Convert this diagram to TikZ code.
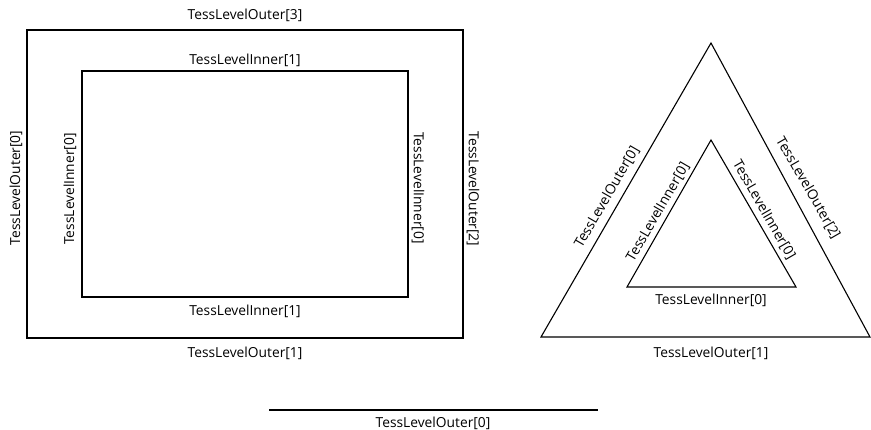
\documentclass[tikz,border=0pt]{standalone}
\usepackage{fontspec}
\setmainfont{Open Sans}
\begin{document}
\begin{tikzpicture}[x=1pt,y=-1pt,
  lbl/.style={inner sep=0pt,font=\fontsize{13.8}{15}\selectfont},
  edge/.style={draw=black,line width=1.1pt}]
\useasboundingbox (0,0) rectangle (871,430);
% rectangles
\coordinate (o1) at (27,30); \coordinate (o2) at (463,338);
\coordinate (i1) at (82,71); \coordinate (i2) at (408,297);
\draw[edge] (o1) rectangle (o2);
\draw[edge] (i1) rectangle (i2);
\node[lbl] (ot3) at (245,15) {TessLevelOuter[3]};
\node[lbl] (it1a) at (245,60) {TessLevelInner[1]};
\node[lbl] (it1b) at (245,311) {TessLevelInner[1]};
\node[lbl] (ot1) at (245,353) {TessLevelOuter[1]};
\node[lbl,rotate=90] (ot0) at (16,188) {TessLevelOuter[0]};
\node[lbl,rotate=90] (it0a) at (70,189) {TessLevelInner[0]};
\node[lbl,rotate=-90] (it0b) at (418,188) {TessLevelInner[0]};
\node[lbl,rotate=-90] (ot2) at (473,189) {TessLevelOuter[2]};
% triangles
\coordinate (ta) at (711,43); \coordinate (tl) at (541,337); \coordinate (tr) at (870,337);
\coordinate (sa) at (711,140); \coordinate (sl) at (627,287); \coordinate (sr) at (796,287);
\draw[edge,line join=miter] (ta) -- (tl) -- (tr) -- cycle;
\draw[edge,line join=miter] (sa) -- (sl) -- (sr) -- cycle;
\node[lbl,rotate=60] (tot0) at (607,197) {TessLevelOuter[0]};
\node[lbl,rotate=60] (tit0a) at (658,212) {TessLevelInner[0]};
\node[lbl,rotate=-60] (tit0b) at (764,210) {TessLevelInner[0]};
\node[lbl,rotate=-60] (tot2) at (808,188) {TessLevelOuter[2]};
\node[lbl] (tit0c) at (711,300) {TessLevelInner[0]};
\node[lbl] (tot1) at (711,353) {TessLevelOuter[1]};
% line
\coordinate (la) at (269,410); \coordinate (lb) at (598,410);
\draw[edge] (la) -- (lb);
\node[lbl] (lot0) at (433,423) {TessLevelOuter[0]};
\end{tikzpicture}
\end{document}
